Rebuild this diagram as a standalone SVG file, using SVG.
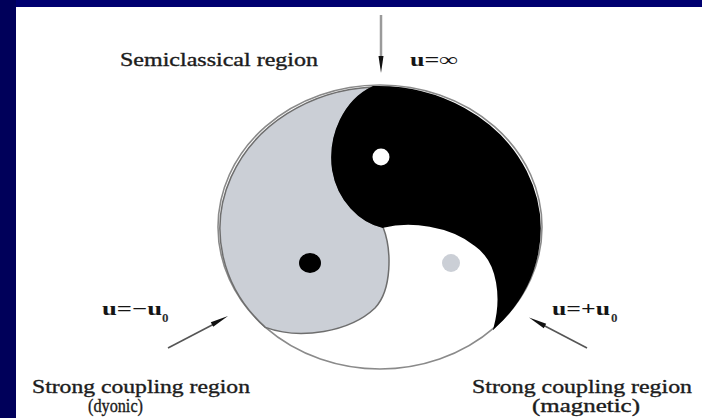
<svg xmlns="http://www.w3.org/2000/svg" width="702" height="418" viewBox="0 0 702 418">
  <style>
    .lbl { font-family: "Liberation Serif", "Times New Roman", serif; fill: #1c1c1c; font-size: 18px; stroke: #1c1c1c; stroke-width: 0.35; }
    .eq { font-family: "Liberation Serif", "Times New Roman", serif; fill: #151515; font-size: 19px; font-weight: bold; }
    .sub { font-family: "Liberation Serif", "Times New Roman", serif; fill: #303030; font-size: 13px; font-weight: bold; }
    .shaft { stroke: #555; stroke-width: 1.6; fill: none; }
    .head { fill: #111; }
  </style>
  <rect x="0" y="0" width="702" height="418" fill="#ffffff"/>
  <rect x="0" y="0" width="702" height="7" fill="#000070"/>
  <rect x="0" y="0" width="16" height="418" fill="#00005a"/>

  <g id="taiji">
    <ellipse cx="380" cy="227" rx="162" ry="142" fill="#ffffff" stroke="#8a8a8a" stroke-width="1.6"/>
    <path id="grey-region" d="M373,87 A162,142 0 0,0 265.4,327.4 C300,340 350,332 375,308 C392,290 392,250 383,227 C360,222 338,200 333,170 C328,135 345,100 373,87 Z" fill="#cbcfd6" stroke="#6e6e6e" stroke-width="1.5"/>
    <path id="black-region" d="M373,87 A162,142 0 0,1 494.5,327.4 C502,300 500,262 475,245 C450,225 410,220 383,227 C360,222 338,200 333,170 C328,135 345,100 373,87 Z" fill="#000000" stroke="#000000" stroke-width="1.8"/>
    <circle cx="381" cy="157" r="8.5" fill="#ffffff"/>
    <ellipse cx="310" cy="263" rx="11" ry="10" fill="#000000"/>
    <circle cx="451" cy="263" r="9" fill="#cbcfd6"/>
  </g>

  <g id="connectors">
    <line x1="381" y1="15" x2="381" y2="60" stroke="#9a9a9a" stroke-width="2.5"/>
    <polygon class="head" points="378.5,56 383.5,56 381,73"/>
    <line class="shaft" x1="168" y1="348" x2="215" y2="323.5"/>
    <polygon class="head" points="228,316 213.2,326.7 210.8,322.3"/>
    <line class="shaft" x1="587" y1="348" x2="542" y2="324.5"/>
    <polygon class="head" points="529,317.5 546.2,323.8 543.8,328.2"/>
  </g>

  <g id="semiclassical">
    <text class="lbl" x="120" y="66" textLength="198" lengthAdjust="spacingAndGlyphs">Semiclassical region</text>
    <text class="eq" x="410" y="66" textLength="48" lengthAdjust="spacingAndGlyphs">u=∞</text>
  </g>

  <g id="dyonic">
    <text class="eq" x="102" y="315" textLength="60" lengthAdjust="spacingAndGlyphs">u=−u</text>
    <text class="sub" x="162" y="322">0</text>
    <text class="lbl" x="32" y="393" textLength="218" lengthAdjust="spacingAndGlyphs">Strong coupling region</text>
    <text class="lbl" x="88" y="412" textLength="55" lengthAdjust="spacingAndGlyphs">(dyonic)</text>
  </g>

  <g id="magnetic">
    <text class="eq" x="552" y="315" textLength="58" lengthAdjust="spacingAndGlyphs">u=+u</text>
    <text class="sub" x="611" y="322">0</text>
    <text class="lbl" x="472" y="393" textLength="220" lengthAdjust="spacingAndGlyphs">Strong coupling region</text>
    <text class="lbl" x="532" y="412" textLength="108" lengthAdjust="spacingAndGlyphs">(magnetic)</text>
  </g>
</svg>
